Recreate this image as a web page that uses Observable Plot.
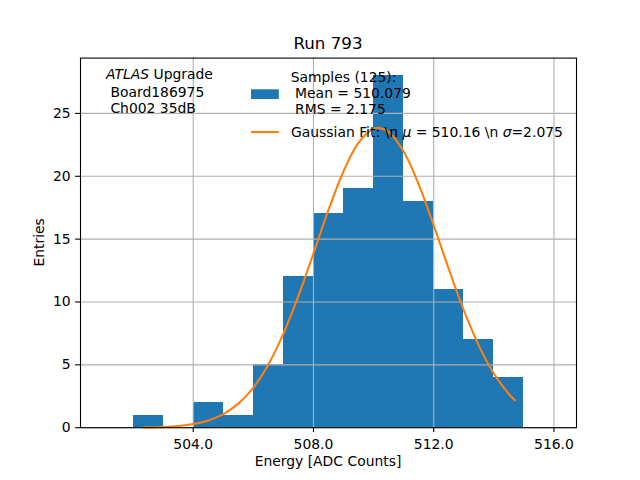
<!DOCTYPE html>
<html><head><meta charset="utf-8">
<script src="https://cdn.jsdelivr.net/npm/d3@7"></script>
<script src="https://cdn.jsdelivr.net/npm/@observablehq/plot@0.6"></script>
<style>body{margin:0;background:#fff} svg{display:block}</style>
</head><body><div id="chart"></div>
<script>
// Histogram: left bin edges (width 1) and entries
const binEdges = [501,502,503,504,505,506,507,508,509,510,511,512,513,514,515];
const counts   = [0,1,0,2,1,5,12,17,19,28,18,11,7,4,0];
// Gaussian fit curve
const fitX = [502.35,502.5,503,503.5,504,504.5,505,505.5,506,506.5,507,507.5,508,508.5,509,509.5,510,510.16,510.5,511,511.5,512,512.5,513,513.5,514,514.5,514.7];
const fitY = [0.02,0.026,0.062,0.138,0.291,0.578,1.083,1.915,3.196,5.03,7.48,10.49,13.87,17.32,20.40,22.67,23.78,23.85,23.53,21.97,19.36,16.10,12.63,9.35,6.53,4.30,2.68,2.18];
const xTicks = [504,508,512,516];
const yTicks = [0,5,10,15,20,25];

const bins = binEdges.map((x,i)=>({x1:x, x2:x+1, n:counts[i]}));
const fit = fitX.map((x,i)=>({x, y:fitY[i]}));

const FS = 13.9;
const plot = Plot.plot({
  width:640, height:480,
  marginLeft:80, marginRight:64, marginTop:57.6, marginBottom:52.8,
  style:{fontFamily:"DejaVu Sans", fontSize:FS+"px", color:"#000", background:"#fff"},
  x:{domain:[500.25,516.75]},
  y:{domain:[0,29.4]},
  marks:[
    Plot.rectY(bins.filter(d=>d.n>0),{x1:"x1",x2:"x2",y1:0,y2:"n",fill:"#1f77b4",inset:0,shapeRendering:"crispEdges"}),
    Plot.gridX(xTicks,{stroke:"#b0b0b0",strokeOpacity:1,strokeWidth:1.1}),
    Plot.gridY(yTicks,{stroke:"#b0b0b0",strokeOpacity:1,strokeWidth:1.1}),
    Plot.line(fit,{x:"x",y:"y",stroke:"#ff7f0e",strokeWidth:2.08,curve:"catmull-rom"}),
    Plot.frame({stroke:"#000",strokeWidth:1.1}),
    Plot.axisX(xTicks,{tickFormat:d=>d.toFixed(1),tickSize:4.9,tickPadding:6.2,label:null,fontSize:FS,strokeWidth:1.1}),
    Plot.axisY(yTicks,{tickSize:4.9,tickPadding:4.9,label:null,fontSize:FS,strokeWidth:1.1})
  ]
});
document.getElementById("chart").appendChild(plot);

const svg = d3.select(plot);
const g = svg.append("g").attr("font-family","DejaVu Sans").attr("fill","#000").style("white-space","pre");
function txt(x,y,parts,opts={}){
  const t = g.append("text").attr("x",x).attr("y",y).attr("font-size",opts.size||FS)
    .attr("text-anchor",opts.anchor||"start");
  if(opts.transform) t.attr("transform",opts.transform);
  for(const p of parts){
    const s = t.append("tspan").text(typeof p==="string"?p:p.t);
    if(typeof p!=="string" && p.i) s.attr("font-style","italic");
  }
  return t;
}
// Title and axis labels
txt(328,49.3,["Run 793"],{size:16.7,anchor:"middle"});
txt(328,466,["Energy [ADC Counts]"],{anchor:"middle"});
txt(0,0,["Entries"],{anchor:"middle",transform:"translate(44,242.4) rotate(-90)"});
// Annotation
txt(106,79,[{t:"ATLAS",i:true}," Upgrade"]);
txt(110.4,97.3,["Board186975"]);
txt(110.4,113,["Ch002 35dB"]);
// Legend
g.append("rect").attr("x",251).attr("y",89.3).attr("width",27.8).attr("height",9.7).attr("fill","#1f77b4");
txt(290.7,81.5,["Samples (125):"]);
txt(295.1,97.7,["Mean = 510.079"]);
txt(295.1,113.9,["RMS = 2.175"]);
g.append("line").attr("x1",251).attr("x2",278.8).attr("y1",132).attr("y2",132).attr("stroke","#ff7f0e").attr("stroke-width",2.08);
txt(291,136.6,["Gaussian Fit: \\n ",{t:"\u03bc",i:true}," = 510.16 \\n ",{t:"\u03c3",i:true},"=2.075"]);
</script></body></html>
